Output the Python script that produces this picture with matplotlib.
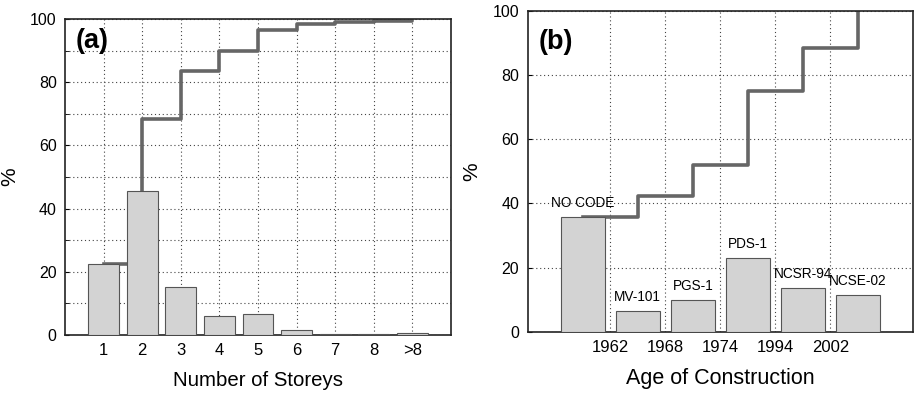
import matplotlib
matplotlib.use("Agg")
import matplotlib.pyplot as plt
import numpy as np

plt.rcParams['font.family'] = ['Liberation Sans', 'DejaVu Sans']

# Panel (a) data
storey_labels = ['1', '2', '3', '4', '5', '6', '7', '8', '>8']
storey_pct = [22.4, 45.7, 15.1, 6.1, 6.5, 1.7, 0.3, 0.4, 0.6]
storey_cum = [22.6, 68.3, 83.6, 89.9, 96.5, 98.5, 98.9, 99.3, 99.6]

# Panel (b) data
code_labels = ['NO CODE', 'MV-101', 'PGS-1', 'PDS-1', 'NCSR-94', 'NCSE-02']
code_pct = [35.7, 6.5, 9.8, 22.9, 13.7, 11.4]
code_cum = [35.7, 42.2, 52.1, 75.0, 88.6, 100.0]
year_ticks = ['1962', '1968', '1974', '1994', '2002']

bar_face = '#d3d3d3'
bar_edge = '#555555'
line_col = '#666666'
grid_kw = dict(color='#444444', linestyle=(0, (1, 2.5)), linewidth=0.8)

fig = plt.figure(figsize=(9.14, 3.93), dpi=100)
axa = fig.add_axes([0.0711, 0.1476, 0.4223, 0.804])
axb = fig.add_axes([0.5773, 0.156, 0.4216, 0.816])

# ---- Panel (a)
xa = np.arange(1, len(storey_labels) + 1)
axa.step(xa, storey_cum, where='post', color=line_col, lw=2.6, zorder=2)
axa.bar(xa, storey_pct, width=0.8, color=bar_face, edgecolor=bar_edge, lw=0.8, zorder=3)
axa.set_xlim(0, 10)
axa.set_ylim(0, 100)
axa.set_xticks(xa)
axa.set_xticklabels(storey_labels)
axa.set_yticks(np.arange(0, 101, 20))
axa.set_yticks(np.arange(10, 100, 20), minor=True)
axa.grid(True, which='both', **grid_kw)
axa.set_axisbelow(True)
axa.set_xlabel('Number of Storeys', fontsize=14.7, labelpad=9)
axa.set_ylabel('%', fontsize=15, labelpad=8)
axa.text(0.028, 0.93, '(a)', transform=axa.transAxes, fontsize=19.5,
         fontweight='bold', va='center', ha='left')

# ---- Panel (b)
xb = np.arange(len(code_labels))
axb.step(xb, code_cum, where='post', color=line_col, lw=2.6, zorder=2)
axb.bar(xb, code_pct, width=0.8, color=bar_face, edgecolor=bar_edge, lw=0.8, zorder=3)
for x, v, lab in zip(xb, code_pct, code_labels):
    axb.annotate(lab, (x, v), xytext=(0, 5), textcoords='offset points',
                 ha='center', va='bottom', fontsize=9.8, zorder=4)
axb.set_xlim(-1, 6)
axb.set_ylim(0, 100)
axb.set_xticks(np.arange(0.5, 5, 1))
axb.set_xticklabels(year_ticks)
axb.set_yticks(np.arange(0, 101, 20))
axb.grid(True, which='major', **grid_kw)
axb.set_axisbelow(True)
axb.set_xlabel('Age of Construction', fontsize=15.5, labelpad=9)
axb.set_ylabel('%', fontsize=15, labelpad=8)
axb.text(0.029, 0.904, '(b)', transform=axb.transAxes, fontsize=19.5,
         fontweight='bold', va='center', ha='left')

for ax in (axa, axb):
    ax.tick_params(axis='both', which='both', direction='in', length=3,
                   labelsize=11.5, pad=6)
    ax.tick_params(axis='x', length=0, labelsize=12)
    for s in ax.spines.values():
        s.set_linewidth(1.2)
        s.set_color('#222222')

fig.savefig('out.png', dpi=100)
